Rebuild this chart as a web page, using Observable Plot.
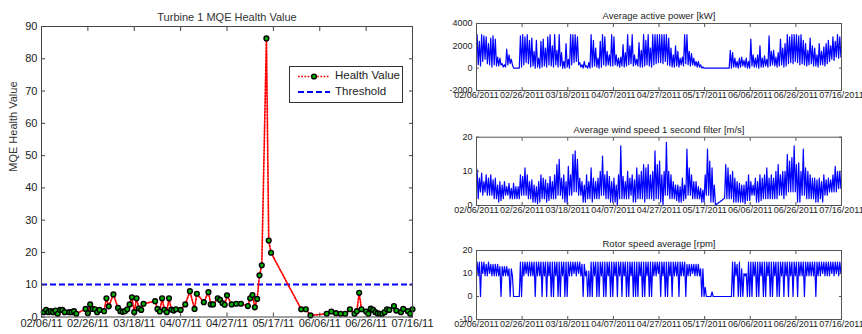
<!DOCTYPE html>
<html><head><meta charset="utf-8">
<script src="https://cdn.jsdelivr.net/npm/d3@7"></script>
<script src="https://cdn.jsdelivr.net/npm/@observablehq/plot@0.6"></script>
<style>
body{margin:0;background:#fff;font-family:"Liberation Sans",Arial,sans-serif;}
#wrap{position:relative;width:862px;height:334px;overflow:hidden;background:#fff;}
.abs{position:absolute;}
svg{overflow:visible;}
</style></head><body><div id="wrap"></div>
<script>
// ---- Left chart data ----
const leftTitle = "Turbine 1 MQE Health Value";
const leftYLabel = "MQE Health Value";
const legendLabels = ["Health Value", "Threshold"];
const threshold = 10.1;
const leftTickLabels = ["02/06/11","02/26/11","03/18/11","04/07/11","04/27/11","05/17/11","06/06/11","06/26/11","07/16/11"];
const leftYTicks = [0,10,20,30,40,50,60,70,80,90];
const healthDates = [
"2011-02-07","2011-02-08","2011-02-09","2011-02-10","2011-02-11","2011-02-12","2011-02-13","2011-02-14","2011-02-15","2011-02-16",
"2011-02-18","2011-02-19","2011-02-20","2011-02-21","2011-02-25","2011-02-26","2011-02-27","2011-02-28","2011-03-01","2011-03-02",
"2011-03-03","2011-03-05","2011-03-06","2011-03-07","2011-03-09","2011-03-11","2011-03-12","2011-03-13","2011-03-14","2011-03-15",
"2011-03-16","2011-03-17","2011-03-18","2011-03-19","2011-03-20","2011-03-21","2011-03-22","2011-03-27","2011-03-28","2011-03-29",
"2011-03-30","2011-03-31","2011-04-01","2011-04-02","2011-04-03","2011-04-04","2011-04-05","2011-04-07","2011-04-09","2011-04-11",
"2011-04-13","2011-04-14","2011-04-17","2011-04-19","2011-04-20","2011-04-21","2011-04-23","2011-04-24","2011-04-25","2011-04-26",
"2011-04-27","2011-04-29","2011-05-01","2011-05-03","2011-05-06","2011-05-07","2011-05-08","2011-05-09","2011-05-10","2011-05-11",
"2011-05-12","2011-05-14","2011-05-15","2011-05-16","2011-05-29","2011-05-31","2011-06-02","2011-06-09","2011-06-11","2011-06-13",
"2011-06-15","2011-06-17","2011-06-19","2011-06-21","2011-06-22","2011-06-23","2011-06-24","2011-06-26","2011-06-27","2011-06-28",
"2011-06-29","2011-06-30","2011-07-01","2011-07-02","2011-07-03","2011-07-04","2011-07-05","2011-07-06","2011-07-08","2011-07-09",
"2011-07-11","2011-07-12","2011-07-14","2011-07-15","2011-07-16"];
const healthValues = [
1.5,2.2,1.5,1.8,1.5,2.0,1.0,2.2,2.2,1.5,
1.5,1.5,1.8,1.0,2.5,1.2,3.9,2.5,2.4,1.5,
2.2,1.8,5.8,3.3,7.0,2.8,1.8,1.6,1.8,2.4,
3.9,6.1,1.5,5.8,2.7,2.2,4.1,4.9,2.5,1.7,
5.8,2.3,1.5,5.8,2.3,2.0,2.4,2.2,3.9,8.0,
2.5,7.2,4.6,7.7,3.9,3.9,5.8,5.3,4.3,3.8,
6.7,3.9,4.1,4.1,3.4,5.8,6.8,3.0,5.6,12.9,
16.0,86.3,23.7,19.9,2.4,2.4,0.5,1.0,1.7,1.2,
1.0,1.0,2.4,1.0,1.8,7.5,2.4,1.7,1.0,2.6,
2.2,1.5,1.1,1.0,1.0,1.5,2.4,2.2,3.4,2.0,
1.5,2.5,1.8,1.0,2.4];

// ---- Right charts data (daily high / low readings, day 0 = 02/06/2011) ----
const rightTickLabels = ["02/06/2011","02/26/2011","03/18/2011","04/07/2011","04/27/2011","05/17/2011","06/06/2011","06/26/2011","07/16/2011"];
const powerTitle = "Average active power [kW]";
const powerYTicks = [-2000,0,2000,4000];
const powerHigh = [
3000,2400,3000,2900,2800,2200,2700,2900,2600,1000,
900,400,300,1700,1200,800,0,0,0,2900,
3000,2800,3000,2500,2700,1500,2500,900,2400,2600,
1800,2800,3000,2000,3000,1600,3000,1400,600,2200,
800,3000,3000,3000,2800,500,300,600,200,500,
3000,2500,1800,900,2400,3000,2800,1500,1200,3000,
2800,1200,900,1000,2100,1400,3000,2000,3000,1200,
800,2300,1600,3000,2500,3000,1800,3000,3000,3000,
3000,3000,3000,3000,2700,1800,1200,2000,1500,900,
1000,3000,3000,1500,1300,900,600,600,300,100,
0,0,0,0,0,0,0,0,0,0,
0,1600,1400,900,600,900,1000,700,900,600,
2600,1200,900,1200,2000,900,1100,800,2900,1500,
1600,1000,1400,2600,1800,2200,3000,2800,3000,3000,
3000,2900,3000,2500,2200,1600,2700,2000,1800,1200,
2200,1500,1900,2200,2500,2000,2800,2400,3000,2800];
const powerLow = [
300,200,600,800,400,300,100,300,200,200,
300,100,100,300,400,300,0,0,0,100,
300,500,400,100,200,0,100,0,100,200,
100,300,200,100,300,100,200,0,0,100,
0,300,500,600,300,100,0,100,0,0,
100,200,100,0,100,300,200,300,200,200,
300,200,100,200,100,200,300,400,200,300,
200,100,100,200,300,200,100,300,400,500,
500,400,600,300,200,100,100,200,100,300,
200,400,300,200,300,200,100,100,0,0,
0,0,0,0,0,0,0,0,0,0,
0,0,100,100,0,100,200,100,0,0,
200,100,100,0,100,100,200,100,200,300,
200,100,200,300,100,200,400,500,400,600,
500,300,400,300,200,300,400,200,200,100,
300,300,200,400,600,800,700,1000,900,1000];

const windTitle = "Average wind speed 1 second filter [m/s]";
const windYTicks = [0,10,20];
const windHigh = [
10.5,8,9.5,7,9,8,9,7.5,8,6,
7,6,7,5.5,6.5,5,6.5,5.5,5.5,9,
8.5,11,9,7,7.5,6,5.5,7,9,8,
7.5,6.5,8.5,7,9,12,13.5,8,9,7,
11.5,9,15,16,13.5,8,7,6,9,7,
11,8,7,8,10,14.5,9,10,8.5,7,
8,6,9,17.5,8.5,7,10,8,9,7.5,
11,9,10,12,11,12,9,10,16,12,
13,9,10,18.5,10,9,7,6,6,5.5,
8,6,16.5,11,9,7,7,5.5,5,4.5,
9,16.5,13,11,6,0.4,0.9,1.4,1.9,12,
11,9,10,8,7,6.5,6,6,7,9,
7,6,8,7,9,8,9,11,8,9,
8,10,12,9,10,10,15,13,14,17.5,
12,12.5,10,16.5,11,10,9,8,8,7.5,
8,7,9,7.5,8,7.5,9,11.5,10,10];
const windLow = [
2,4,3,4,3,3,3,2,2,1,
1.5,2,3,3,2,2,2,2,2,3,
3,3,2,2,1,1,0.5,1,2,2,
1,1.5,2,2,2,3,3,2,1,0.5,
3,3,4,4,3,3,1,1,2,2,
1,2,2,2,3,3,2,2,1,1,
1,0,2,2,2,2,2,3,1,1,
2,2,2,1,2,2,2,1.5,2,2,
1,0,3,3,2,2,2,1.5,1,1,
1.5,2,3,3,2,2,2,2,1,1,
3,3,1,1,0,0.6,1.1,1.6,2.1,2,
2,2,1,1,1,1,1,0.5,1.5,1.5,
3,3,1,1,1.5,2,2,2,2,2,
2,2,3,3,2,3,4,4,4,4,
1,1,3,3,2,2,2,2,1,1,
2,1,3,3,4,4,4,4,5,5];

const rotorTitle = "Rotor speed average [rpm]";
const rotorYTicks = [-10,0,10,20];
const rotorHigh = [
15,15,15,15,14,15,14,14,14,14,
13,13,13,13,12,12,0,0,0,15,
15,15,15,15,15,15,15,15,15,15,
15,15,15,15,15,15,15,15,15,15,
15,15,15,15,15,15,14,14,11,11,
15,15,15,15,15,15,15,15,15,15,
15,15,15,15,15,15,15,15,15,15,
15,15,15,15,15,15,15,15,15,15,
15,15,15,15,15,15,15,15,15,15,
15,15,14,14,14,14,14,14,12,12,
4,0,0,2,0,0,0,0,0,0,
0,0,15,15,14,15,12,10,10,15,
15,15,15,15,15,15,15,15,15,15,
15,15,15,15,15,15,15,15,15,15,
15,15,15,15,15,15,15,15,15,15,
15,15,15,15,15,15,15,15,15,15];
const rotorLow = [
9,0,10,9,9,10,9,9,9,9,
0,9,9,9,0,9,0,0,0,0,
9,10,9,9,9,0,9,9,0,9,
0,9,0,0,9,0,0,9,0,0,
9,9,10,9,10,9,0,9,0,0,
0,9,0,0,9,0,0,9,0,0,
9,0,9,0,9,0,0,9,0,0,
0,9,0,0,9,0,0,9,9,10,
0,9,0,0,9,0,9,9,0,9,
9,0,9,9,10,9,9,9,0,0,
0,0,0,0,0,0,0,0,0,0,
0,0,0,9,0,0,0,9,0,0,
0,9,0,0,9,0,0,9,0,0,
9,0,0,9,0,9,0,9,0,9,
0,9,9,0,9,9,9,9,0,9,
9,10,9,9,9,10,9,10,9,10];

// ---- Build ----
const font = "'Liberation Sans', Arial, sans-serif";
const wrap = document.getElementById("wrap");
const parseD = d3.utcParse("%Y-%m-%d");
const parseL = d3.utcParse("%m/%d/%y");
const parseR = d3.utcParse("%m/%d/%Y");
const fmtL = d3.utcFormat("%m/%d/%y");
const fmtR = d3.utcFormat("%m/%d/%Y");
const plainNum = d => String(d);
const xTicksL = leftTickLabels.map(parseL);
const xTicksR = rightTickLabels.map(parseR);
const domainL = [xTicksL[0], xTicksL[xTicksL.length - 1]];
const domainR = [xTicksR[0], xTicksR[xTicksR.length - 1]];
const health = healthDates.map((d, i) => ({date: parseD(d), value: healthValues[i]}));

function place(node, left, top) {
  const d = document.createElement("div");
  d.className = "abs";
  d.style.left = left + "px";
  d.style.top = top + "px";
  d.appendChild(node);
  wrap.appendChild(d);
}

const leftChart = Plot.plot({
  width: 440, height: 334,
  marginLeft: 41, marginRight: 28, marginTop: 26, marginBottom: 17.5,
  style: {fontFamily: font, fontSize: "11px", color: "#222", background: "transparent"},
  x: {type: "utc", domain: domainL, label: null},
  y: {domain: [0, 90], label: null},
  marks: [
    Plot.ruleY([threshold], {stroke: "#0000ff", strokeWidth: 2, strokeDasharray: "6,3"}),
    Plot.line(health, {x: "date", y: "value", stroke: "#ff0000", strokeWidth: 1.7, strokeDasharray: "1.7,1.5"}),
    Plot.dot(health, {x: "date", y: "value", r: 2.4, fill: "#00b400", stroke: "#000", strokeWidth: 1.4}),
    Plot.frame({stroke: "#444"}),
    Plot.axisX({anchor: "bottom", ticks: xTicksL, tickFormat: fmtL, tickSize: -4, tickPadding: 6, label: null, stroke: "#444"}),
    Plot.axisX({anchor: "top", ticks: xTicksL, tickFormat: () => "", tickSize: -4, label: null, stroke: "#444"}),
    Plot.axisY({anchor: "left", ticks: leftYTicks, tickFormat: plainNum, tickSize: -4, tickPadding: 8, label: null, stroke: "#444"}),
    Plot.axisY({anchor: "right", ticks: leftYTicks, tickFormat: () => "", tickSize: -4, label: null, stroke: "#444"}),
    Plot.text([leftTitle], {frameAnchor: "top", dy: -13, fontSize: 11, fill: "#333"}),
    Plot.text([leftYLabel], {frameAnchor: "left", dx: -28, rotate: -90, fontSize: 11, fill: "#333"})
  ]
});
place(leftChart, 0, 0);

// Legend
const leg = document.createElement("div");
leg.className = "abs";
leg.style.cssText = "left:289px;top:66px;width:112px;height:35px;border:1px solid #333;background:#fff;font-family:" + font + ";font-size:11.5px;color:#222;";
leg.innerHTML = `<svg width="42" height="35" style="position:absolute;left:0;top:0">
  <line x1="8" x2="40" y1="9.5" y2="9.5" stroke="#ff0000" stroke-width="1.7" stroke-dasharray="1.7,1.5"/>
  <circle cx="24" cy="9.5" r="2.4" fill="#00b400" stroke="#000" stroke-width="1.4"/>
  <line x1="8" x2="40" y1="25" y2="25" stroke="#0000ff" stroke-width="2" stroke-dasharray="6,3"/>
</svg>
<span style="position:absolute;left:45px;top:2px;">${legendLabels[0]}</span>
<span style="position:absolute;left:45px;top:18px;">${legendLabels[1]}</span>`;
wrap.appendChild(leg);

function sideChart({title, hi, lo, yDomain, yTicks, height, marginTop, marginBottom, titleDy}) {
  const start = domainR[0];
  const series = [];
  hi.forEach((h, k) => {
    series.push({date: d3.utcHour.offset(start, k * 24 + 6), v: h});
    series.push({date: d3.utcHour.offset(start, k * 24 + 18), v: lo[k]});
  });
  return Plot.plot({
    width: 422, height,
    marginLeft: 36, marginRight: 21, marginTop, marginBottom,
    style: {fontFamily: font, fontSize: "9px", color: "#222", background: "transparent"},
    x: {type: "utc", domain: domainR, label: null},
    y: {domain: yDomain, label: null},
    marks: [
      Plot.line(series, {x: "date", y: "v", stroke: "#0000ff", strokeWidth: 1.2}),
      Plot.frame({stroke: "#555"}),
      Plot.axisX({anchor: "bottom", ticks: xTicksR, tickFormat: fmtR, tickSize: -3, tickPadding: 4, label: null, stroke: "#555"}),
      Plot.axisX({anchor: "top", ticks: xTicksR, tickFormat: () => "", tickSize: -3, label: null, stroke: "#555"}),
      Plot.axisY({anchor: "left", ticks: yTicks, tickFormat: plainNum, tickSize: -3, tickPadding: 7, label: null, stroke: "#555"}),
      Plot.axisY({anchor: "right", ticks: yTicks, tickFormat: () => "", tickSize: -3, label: null, stroke: "#555"}),
      Plot.text([title], {frameAnchor: "top", dy: titleDy, fontSize: 9.5, fill: "#222"})
    ]
  });
}

place(sideChart({title: powerTitle, hi: powerHigh, lo: powerLow, yDomain: [-2000, 4000], yTicks: powerYTicks, height: 110, marginTop: 23, marginBottom: 20, titleDy: -11}), 440, 0);
place(sideChart({title: windTitle, hi: windHigh, lo: windLow, yDomain: [0, 20], yTicks: windYTicks, height: 115, marginTop: 26.7, marginBottom: 20, titleDy: -11}), 440, 110);
place(sideChart({title: rotorTitle, hi: rotorHigh, lo: rotorLow, yDomain: [-10, 20], yTicks: rotorYTicks, height: 109, marginTop: 25, marginBottom: 15, titleDy: -10}), 440, 225);
</script>
</body></html>
